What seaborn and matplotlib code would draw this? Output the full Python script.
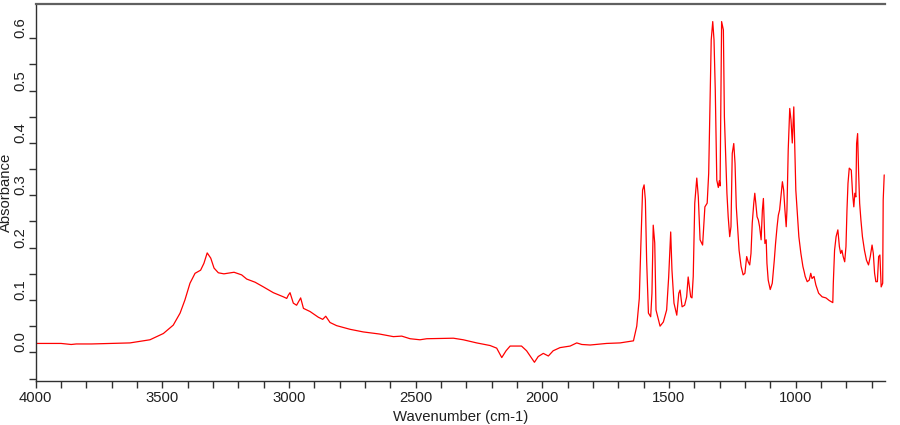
import numpy as np
import pandas as pd
import seaborn as sns
from matplotlib import pyplot as plt

# IR spectrum (wavenumber in cm-1, absorbance)
wavenumber = [4000, 3900, 3860, 3840, 3780, 3700, 3628, 3549, 3496, 3457,
              3430, 3411, 3391, 3371, 3349, 3336, 3323, 3309, 3296, 3279,
              3257, 3217, 3187, 3167, 3134, 3101, 3062, 3022, 3009, 3003,
              2996, 2983, 2970, 2954, 2943, 2917, 2884, 2867, 2855, 2838,
              2812, 2759, 2707, 2643, 2588, 2555, 2522, 2483, 2456, 2351,
              2312, 2259, 2206, 2180, 2160, 2143, 2127, 2082, 2062, 2042,
              2031, 2016, 1996, 1976, 1957, 1930, 1890, 1864, 1844, 1811,
              1746, 1693, 1667, 1640, 1627, 1617, 1611, 1604, 1598, 1593,
              1588, 1581, 1572, 1567, 1562, 1556, 1551, 1535, 1522, 1509,
              1501, 1493, 1488, 1480, 1469, 1461, 1456, 1448, 1438, 1430,
              1424, 1414, 1409, 1404, 1398, 1390, 1384, 1377, 1367, 1358,
              1349, 1343, 1338, 1333, 1327, 1322, 1317, 1311, 1305, 1301,
              1298, 1294, 1292, 1285, 1281, 1276, 1271, 1266, 1260, 1255,
              1250, 1244, 1239, 1234, 1228, 1223, 1215, 1207, 1200, 1193,
              1187, 1181, 1176, 1171, 1165, 1161, 1157, 1152, 1147, 1142,
              1136, 1131, 1127, 1123, 1121, 1116, 1113, 1108, 1100, 1092,
              1084, 1079, 1073, 1068, 1063, 1058, 1052, 1047, 1042, 1037,
              1034, 1029, 1023, 1018, 1013, 1007, 1003, 999, 994, 987,
              979, 971, 966, 962, 954, 946, 940, 935, 927, 920,
              909, 895, 880, 867, 853, 851, 846, 840, 833, 827,
              822, 817, 812, 806, 801, 797, 793, 788, 780, 775,
              770, 766, 762, 759, 755, 751, 747, 742, 736, 728,
              720, 712, 705, 698, 693, 688, 683, 677, 672, 667,
              662, 656, 654, 650]
absorbance = [0.017, 0.017, 0.015, 0.016, 0.016, 0.017, 0.018, 0.024, 0.036, 0.052,
              0.075, 0.100, 0.132, 0.151, 0.157, 0.170, 0.190, 0.180, 0.161, 0.152,
              0.150, 0.153, 0.148, 0.140, 0.134, 0.125, 0.114, 0.106, 0.103, 0.109,
              0.114, 0.094, 0.090, 0.104, 0.084, 0.078, 0.067, 0.063, 0.069, 0.057,
              0.051, 0.044, 0.039, 0.035, 0.030, 0.031, 0.026, 0.024, 0.026, 0.027,
              0.024, 0.018, 0.013, 0.008, -0.010, 0.003, 0.012, 0.012, 0.003, -0.011,
              -0.019, -0.008, -0.002, -0.007, 0.003, 0.009, 0.012, 0.018, 0.015, 0.014,
              0.017, 0.018, 0.020, 0.022, 0.050, 0.103, 0.202, 0.310, 0.320, 0.291,
              0.176, 0.075, 0.068, 0.113, 0.243, 0.209, 0.081, 0.050, 0.058, 0.081,
              0.144, 0.230, 0.157, 0.094, 0.071, 0.113, 0.119, 0.087, 0.090, 0.106,
              0.144, 0.106, 0.104, 0.145, 0.285, 0.333, 0.297, 0.215, 0.205, 0.278,
              0.285, 0.342, 0.469, 0.597, 0.632, 0.597, 0.501, 0.329, 0.315, 0.328,
              0.318, 0.520, 0.632, 0.616, 0.450, 0.380, 0.304, 0.259, 0.221, 0.240,
              0.380, 0.399, 0.361, 0.278, 0.234, 0.195, 0.164, 0.148, 0.151, 0.183,
              0.173, 0.167, 0.189, 0.247, 0.285, 0.304, 0.285, 0.259, 0.253, 0.240,
              0.215, 0.272, 0.294, 0.234, 0.208, 0.215, 0.170, 0.138, 0.120, 0.132,
              0.176, 0.208, 0.240, 0.262, 0.272, 0.297, 0.326, 0.310, 0.272, 0.240,
              0.272, 0.387, 0.466, 0.444, 0.400, 0.469, 0.387, 0.310, 0.272, 0.221,
              0.189, 0.164, 0.154, 0.145, 0.135, 0.138, 0.151, 0.141, 0.145, 0.129,
              0.113, 0.106, 0.104, 0.099, 0.095, 0.132, 0.195, 0.221, 0.234, 0.202,
              0.189, 0.195, 0.183, 0.173, 0.202, 0.272, 0.323, 0.352, 0.348, 0.304,
              0.278, 0.304, 0.297, 0.399, 0.418, 0.342, 0.285, 0.253, 0.221, 0.195,
              0.176, 0.167, 0.183, 0.205, 0.189, 0.151, 0.135, 0.135, 0.183, 0.186,
              0.125, 0.132, 0.291, 0.339]

x_ticks = list(range(4000, 600, -100))
x_labels = ['4000', '3500', '3000', '2500', '2000', '1500', '1000']
y_ticks = [round(-0.05 + 0.05 * i, 2) for i in range(14)]
y_labels = ['0.0', '0.1', '0.2', '0.3', '0.4', '0.5', '0.6']

sns.set_style('ticks')
plt.rcParams['font.family'] = ['Liberation Sans', 'DejaVu Sans']

df = pd.DataFrame({'Wavenumber': wavenumber, 'Absorbance': absorbance})

fig = plt.figure(figsize=(9, 4.25), dpi=100)
ax = fig.add_axes([0.0397, 0.1035, 0.9436, 0.8871])

sns.lineplot(data=df, x='Wavenumber', y='Absorbance', color='#ff0000',
             linewidth=0.9, sort=False, ax=ax)

ax.set_xlim(4000, 647)
ax.set_ylim(-0.0548, 0.6656)

# ticks every 100 / 0.05, labels only on the round values
ax.set_xticks(x_ticks)
ax.set_xticklabels([str(t) if str(t) in x_labels else '' for t in x_ticks])
ax.set_yticks(y_ticks)
ylab = []
for t in y_ticks:
    s = '%.1f' % t
    ylab.append(s if (s in y_labels and abs(t * 10 - round(t * 10)) < 1e-6) else '')
ax.set_yticklabels(ylab, rotation=90, va='bottom')

ax.tick_params(axis='both', direction='out', length=5, width=1,
               color='#303030', labelsize=10.7, labelcolor='#202020')
ax.tick_params(axis='x', pad=2)
ax.tick_params(axis='y', pad=1)

ax.spines['right'].set_visible(False)
for side in ['left', 'bottom']:
    ax.spines[side].set_color('#303030')
    ax.spines[side].set_linewidth(1.0)
ax.spines['top'].set_color('#606060')
ax.spines['top'].set_linewidth(1.6)

ax.set_xlabel('Wavenumber (cm-1)', fontsize=10.7, color='#202020')
ax.set_ylabel('Absorbance', fontsize=10.7, color='#202020')
ax.xaxis.set_label_coords(0.5, -0.076)
ax.yaxis.set_label_coords(-0.027, 0.5)

fig.savefig('out.png', dpi=100)
